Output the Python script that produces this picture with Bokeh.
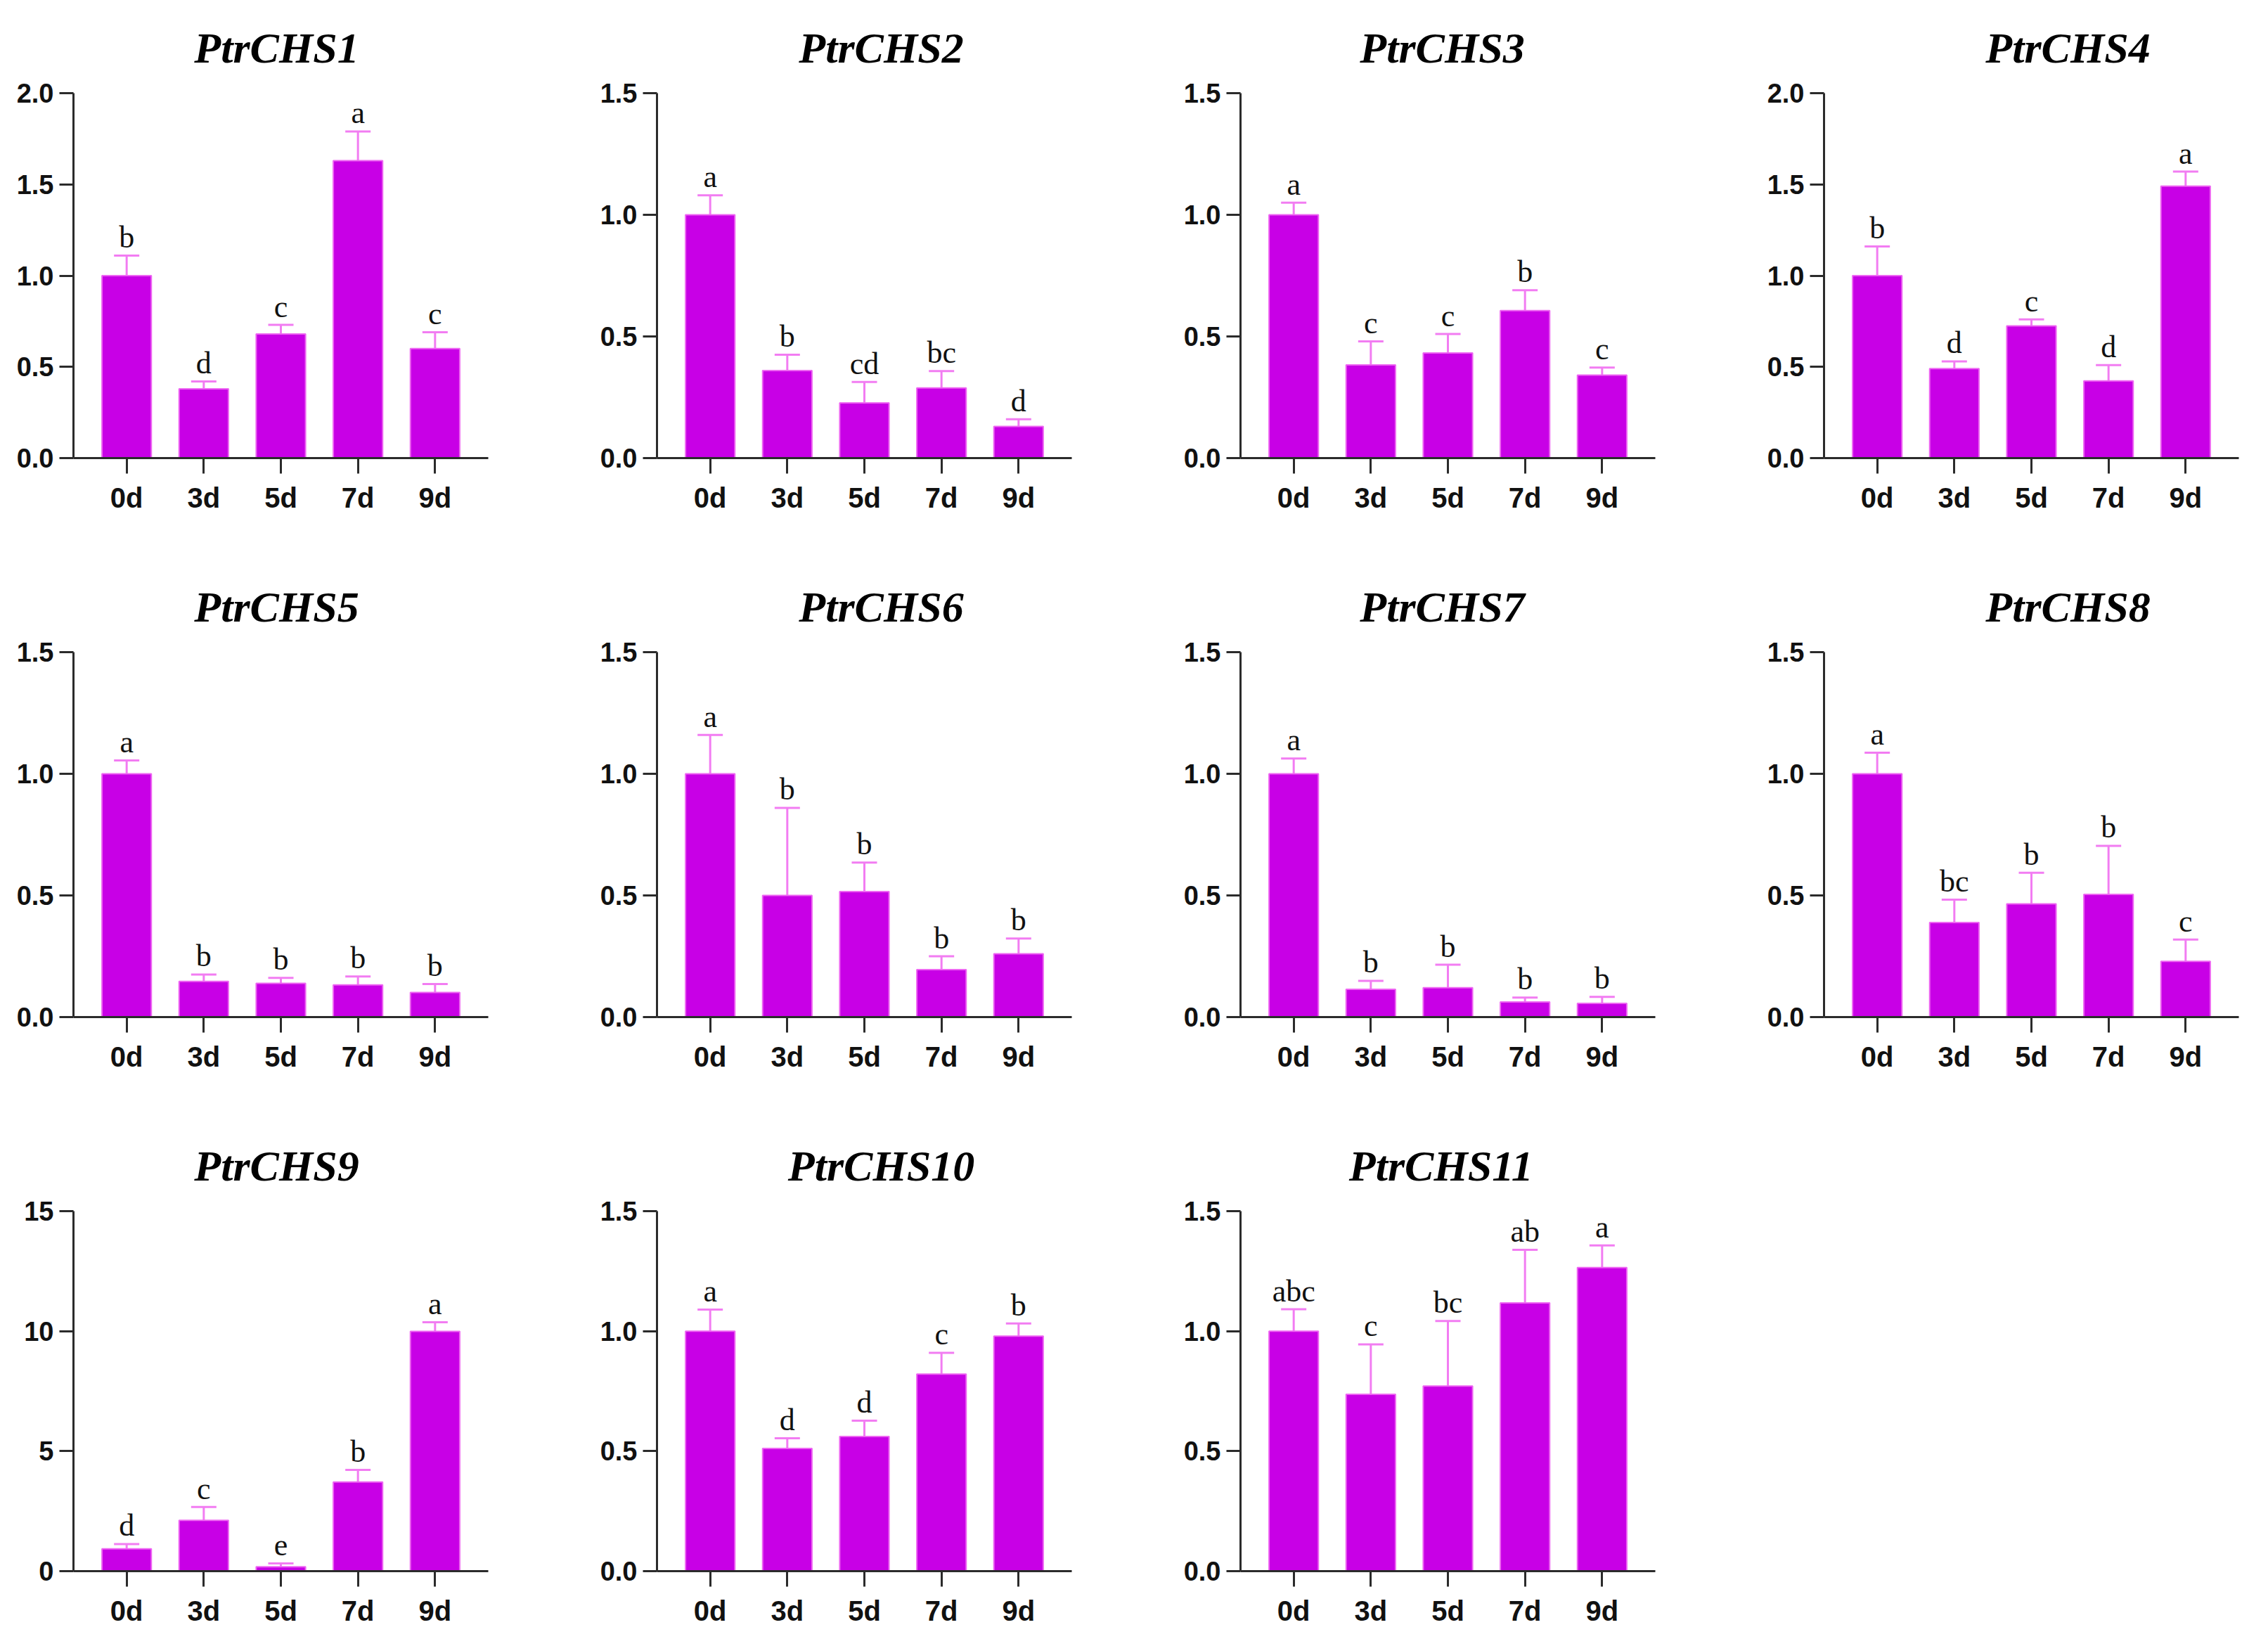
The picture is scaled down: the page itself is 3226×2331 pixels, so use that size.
from bokeh.plotting import figure
from bokeh.layouts import column, row
from bokeh.models import (ColumnDataSource, FactorRange, Range1d, FixedTicker,
                          NumeralTickFormatter, Whisker, TeeHead)
from bokeh.embed import file_html
from bokeh.resources import INLINE
from bokeh.core.properties import value

days = ["0d", "3d", "5d", "7d", "9d"]

genes = ["PtrCHS1", "PtrCHS2", "PtrCHS3", "PtrCHS4", "PtrCHS5", "PtrCHS6",
         "PtrCHS7", "PtrCHS8", "PtrCHS9", "PtrCHS10", "PtrCHS11"]

chs1 = [1.0, 0.38, 0.68, 1.63, 0.60]
chs1_err = [0.11, 0.04, 0.05, 0.16, 0.09]
chs1_sig = ["b", "d", "c", "a", "c"]

chs2 = [1.0, 0.36, 0.227, 0.288, 0.13]
chs2_err = [0.08, 0.065, 0.086, 0.07, 0.03]
chs2_sig = ["a", "b", "cd", "bc", "d"]

chs3 = [1.0, 0.383, 0.432, 0.606, 0.341]
chs3_err = [0.05, 0.097, 0.078, 0.084, 0.031]
chs3_sig = ["a", "c", "c", "b", "c"]

chs4 = [1.0, 0.49, 0.724, 0.423, 1.49]
chs4_err = [0.16, 0.04, 0.036, 0.087, 0.08]
chs4_sig = ["b", "d", "c", "d", "a"]

chs5 = [1.0, 0.147, 0.139, 0.132, 0.101]
chs5_err = [0.055, 0.028, 0.022, 0.035, 0.035]
chs5_sig = ["a", "b", "b", "b", "b"]

chs6 = [1.0, 0.5, 0.516, 0.195, 0.26]
chs6_err = [0.16, 0.36, 0.119, 0.055, 0.063]
chs6_sig = ["a", "b", "b", "b", "b"]

chs7 = [1.0, 0.114, 0.121, 0.0625, 0.056]
chs7_err = [0.063, 0.035, 0.094, 0.018, 0.027]
chs7_sig = ["a", "b", "b", "b", "b"]

chs8 = [1.0, 0.389, 0.465, 0.504, 0.229]
chs8_err = [0.087, 0.094, 0.128, 0.2, 0.09]
chs8_sig = ["a", "bc", "b", "b", "c"]

chs9 = [0.93, 2.12, 0.18, 3.71, 9.99]
chs9_err = [0.2, 0.55, 0.14, 0.51, 0.38]
chs9_sig = ["d", "c", "e", "b", "a"]

chs10 = [1.0, 0.511, 0.561, 0.821, 0.979]
chs10_err = [0.09, 0.043, 0.066, 0.089, 0.053]
chs10_sig = ["a", "d", "d", "c", "b"]

chs11 = [1.0, 0.737, 0.771, 1.118, 1.265]
chs11_err = [0.091, 0.208, 0.271, 0.221, 0.092]
chs11_sig = ["abc", "c", "bc", "ab", "a"]

y_max = [2.0, 1.5, 1.5, 2.0, 1.5, 1.5, 1.5, 1.5, 15, 1.5, 1.5]
y_step = [0.5, 0.5, 0.5, 0.5, 0.5, 0.5, 0.5, 0.5, 5, 0.5, 0.5]

means = [chs1, chs2, chs3, chs4, chs5, chs6, chs7, chs8, chs9, chs10, chs11]
errs = [chs1_err, chs2_err, chs3_err, chs4_err, chs5_err, chs6_err,
        chs7_err, chs8_err, chs9_err, chs10_err, chs11_err]
sigs = [chs1_sig, chs2_sig, chs3_sig, chs4_sig, chs5_sig, chs6_sig,
        chs7_sig, chs8_sig, chs9_sig, chs10_sig, chs11_sig]

BAR = "#C800E6"
BAR_EDGE = "#EE66F2"
ERR = "#F27CF2"
AXIS = "#2b2b2b"

ROW_H = [795, 795, 725]
TOP = 132
FRAME_H = 519
LEFT = 104
FRAME_W = 590
TITLE_PX = 62
TITLE_DX = [-6, 24, -8, 52]   # horizontal shift of each column's title centre

# approximate advance widths (em) of Times Bold Italic, for centring titles
ADV = {"P": 0.611, "t": 0.278, "r": 0.389, "C": 0.667, "H": 0.778, "S": 0.556}


def title_width(s):
    return sum(ADV.get(ch, 0.5) for ch in s) * TITLE_PX


def panel(i, col, rowi):
    w = 700 if col == 3 else 830
    h = ROW_H[rowi]
    p = figure(width=w, height=h, output_backend="svg", toolbar_location=None,
               x_range=FactorRange(*days, range_padding=0.19,
                                   range_padding_units="absolute"),
               y_range=Range1d(0, y_max[i]),
               min_border_left=LEFT, min_border_right=w - LEFT - FRAME_W,
               min_border_top=TOP, min_border_bottom=h - TOP - FRAME_H)
    p.title.text = genes[i]
    p.title.align = "left"
    p.title.offset = FRAME_W / 2 + TITLE_DX[col] - title_width(genes[i]) / 2
    p.title.text_font = "Liberation Serif"
    p.title.text_font_style = "bold italic"
    p.title.text_font_size = f"{TITLE_PX}px"
    p.title.text_color = "#000000"
    p.title.standoff = 62
    p.outline_line_color = None
    p.xgrid.grid_line_color = None
    p.ygrid.grid_line_color = None
    p.background_fill_color = "white"
    p.border_fill_color = "white"

    src = ColumnDataSource(dict(
        day=days, mean=means[i],
        upper=[m + e for m, e in zip(means[i], errs[i])],
        sig=sigs[i]))
    p.vbar(x="day", top="mean", width=0.64, source=src,
           fill_color=BAR, line_color=BAR_EDGE, line_width=2)
    wh = Whisker(base="day", upper="upper", lower="mean", source=src,
                 line_color=ERR, line_width=3,
                 upper_head=TeeHead(size=36, line_color=ERR, line_width=3),
                 lower_head=None, level="underlay")
    p.add_layout(wh)
    p.text(x="day", y="upper", text="sig", source=src,
           text_font=value("Liberation Serif"), text_font_size="44px",
           text_align="center", text_baseline="alphabetic", y_offset=-26,
           text_color="#111111")

    ticks = []
    t = 0.0
    while t <= y_max[i] + 1e-9:
        ticks.append(round(t, 3))
        t += y_step[i]
    p.yaxis.ticker = FixedTicker(ticks=ticks)
    p.yaxis.formatter = NumeralTickFormatter(format="0" if y_step[i] >= 1 else "0.0")
    for ax in (p.xaxis, p.yaxis):
        ax.axis_line_color = AXIS
        ax.axis_line_width = 3
        ax.major_tick_line_color = AXIS
        ax.major_tick_line_width = 3
        ax.major_tick_in = 0
        ax.minor_tick_line_color = None
        ax.major_label_text_font = "Liberation Sans"
        ax.major_label_text_font_style = "bold"
        ax.major_label_text_color = "#111111"
    p.yaxis.major_label_text_font_size = "38px"
    p.xaxis.major_label_text_font_size = "40px"
    p.yaxis.major_tick_out = 20
    p.yaxis.major_label_standoff = 8
    p.xaxis.major_tick_out = 22
    p.xaxis.major_label_standoff = 12
    return p


rows = []
k = 0
for r, n in enumerate([4, 4, 3]):
    figs = []
    for c in range(n):
        figs.append(panel(k, c, r))
        k += 1
    rows.append(row(*figs))

layout = column(*rows)
open("out.html", "w").write(file_html(layout, INLINE))
